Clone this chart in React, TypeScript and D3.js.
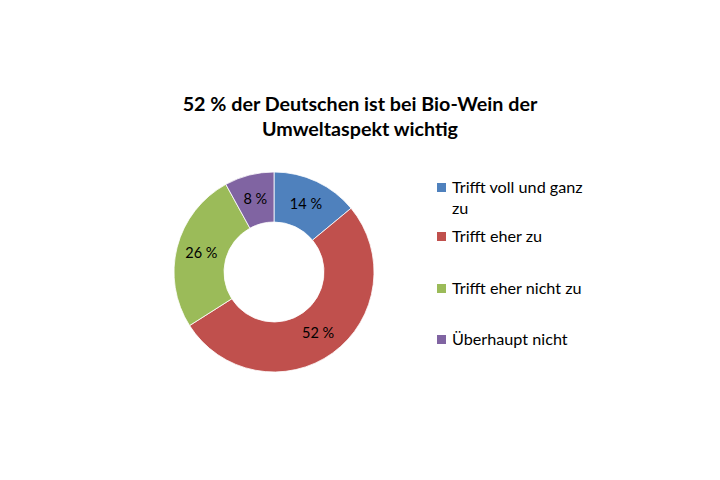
import React from "react";
import * as d3 from "d3";

const title = ["52 % der Deutschen ist bei Bio-Wein der", "Umweltaspekt wichtig"];
const categories = ["Trifft voll und ganz zu", "Trifft eher zu", "Trifft eher nicht zu", "Überhaupt nicht"];
const legendLines = [["Trifft voll und ganz", "zu"], ["Trifft eher zu"], ["Trifft eher nicht zu"], ["Überhaupt nicht"]];
const values = [14, 52, 26, 8];
const colors = ["#4F81BD", "#C0504D", "#9BBB59", "#8064A2"];

const FONT = "Lato, 'Open Sans', sans-serif";

export default function App() {
  const W = 720, H = 480;
  const cx = 274, cy = 272, R = 100, r = 50;
  const pie = d3.pie<number>().sort(null).value((d) => d)(values);
  const arc = d3.arc<d3.PieArcDatum<number>>().innerRadius(r).outerRadius(R);
  const labelArc = d3.arc<d3.PieArcDatum<number>>().innerRadius(75).outerRadius(75);
  const legendY = [188, 237, 289, 340];
  return (
    <svg width={W} height={H} style={{ position: "absolute", left: 0, top: 0, background: "#fff" }} fontFamily={FONT}>
      <rect width={W} height={H} fill="#fff" />
      {title.map((t, i) => (
        <text key={i} x={360} y={111 + i * 25} textAnchor="middle" fontSize={19.7} fontWeight="bold" fill="#000">{t}</text>
      ))}
      <g transform={`translate(${cx},${cy})`}>
        {pie.map((p, i) => (
          <path key={i} d={arc(p) || ""} fill={colors[i]} stroke="#fff" strokeWidth={0.8} />
        ))}
        {pie.map((p, i) => {
          const [x, y] = labelArc.centroid(p);
          return (
            <text key={i} x={x} y={y} dy="0.35em" textAnchor="middle" fontSize={14.5} fill="#000">{values[i]} %</text>
          );
        })}
      </g>
      {categories.map((c, i) => (
        <g key={c}>
          <rect x={437} y={legendY[i] - 5} width={9} height={9} fill={colors[i]} />
          {legendLines[i].map((l, j) => (
            <text key={j} x={452} y={legendY[i] + 5 + j * 21} fontSize={16.2} fill="#000">{l}</text>
          ))}
        </g>
      ))}
    </svg>
  );
}
